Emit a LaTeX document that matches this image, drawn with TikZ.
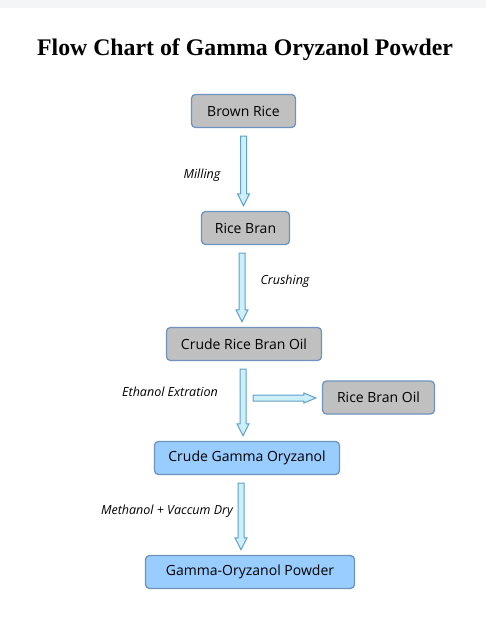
\documentclass[tikz,border=0pt]{standalone}
\usepackage{fontspec}
\setmainfont{Liberation Serif}
\setsansfont{Open Sans}
\usetikzlibrary{calc, positioning}
\definecolor{boxgray}{HTML}{C0C0C0}
\definecolor{boxblue}{HTML}{99CCFF}
\definecolor{boxline}{HTML}{6F93BD}
\definecolor{arrowfill}{HTML}{CDEFFA}
\definecolor{arrowline}{HTML}{62A0C8}
\definecolor{topband}{HTML}{F4F5F6}

% hollow block arrow going down from node #2 to node #3
\newcommand{\flowdown}[3][0]{%
  \path[flowarrow] let \p1=($(#2.south)+(#1pt,-8pt)$),
      \p2=($(#3.north)+(#1pt,5pt)$) in
    (\x1-3pt,\y1) -- (\x1+3pt,\y1) -- (\x1+3pt,\y2+12pt)
    -- (\x1+6pt,\y2+12pt) -- (\x1,\y2) -- (\x1-6pt,\y2+12pt)
    -- (\x1-3pt,\y2+12pt) -- cycle;
}
% hollow block arrow going right from coordinate #1 to node #2
\newcommand{\flowright}[2]{%
  \path[flowarrow] let \p1=(#1), \p2=($(#2.west)+(-6pt,0)$) in
    (\x1,\y1-3pt) -- (\x1,\y1+3pt) -- (\x2-12pt,\y1+3pt)
    -- (\x2-12pt,\y1+5pt) -- (\x2,\y1) -- (\x2-12pt,\y1-5pt)
    -- (\x2-12pt,\y1-3pt) -- cycle;
}

\begin{document}
\begin{tikzpicture}[
  x=1pt, y=-1pt,
  stage/.style={draw=boxline, line width=1.3pt, rounded corners=4pt,
    minimum height=33pt, inner sep=0pt,
    font=\sffamily\fontsize{14}{17}\selectfont},
  raw/.style={stage, fill=boxgray},
  product/.style={stage, fill=boxblue},
  process/.style={font=\sffamily\itshape\fontsize{12.5}{15}\selectfont},
  flowarrow/.style={draw=arrowline, fill=arrowfill, line width=1pt}
]
  % Page
  \fill[white] (0,0) rectangle (486,622);
  \fill[topband] (0,0) rectangle (486,8);
  \useasboundingbox (0,0) rectangle (486,622);

  % Title
  \node[font=\bfseries\fontsize{23.8}{28}\selectfont] (title) at (245,50)
    {Flow Chart of Gamma Oryzanol Powder};

  % Stages
  \node[raw, minimum width=104pt] (brown) at (243.5,111) {Brown Rice};
  \node[raw, minimum width=88pt] (bran) at (245.5,228) {Rice Bran};
  \node[raw, minimum width=155pt] (crude) at (244,344) {Crude Rice Bran Oil};
  \node[raw, minimum width=112pt] (oil) at (378.5,397.5) {Rice Bran Oil};
  \node[product, minimum width=185pt] (gamma) at (247,458)
    {Crude Gamma Oryzanol};
  \node[product, minimum width=209pt] (powder) at (250,572)
    {Gamma-Oryzanol Powder};

  % Arrows
  \flowdown{brown}{bran}
  \flowdown[-3.5]{bran}{crude}
  \flowdown[-1]{crude}{gamma}
  \flowdown[-6]{gamma}{powder}
  \coordinate (split) at (253,398);
  \flowright{split}{oil}

  % Process labels
  \node[process] (milling) at (202,175) {Milling};
  \node[process] (crushing) at (285,281) {Crushing};
  \node[process] (ethanol) at (170,392) {Ethanol Extration};
  \node[process] (methanol) at (167,511) {Methanol + Vaccum Dry};
\end{tikzpicture}
\end{document}
